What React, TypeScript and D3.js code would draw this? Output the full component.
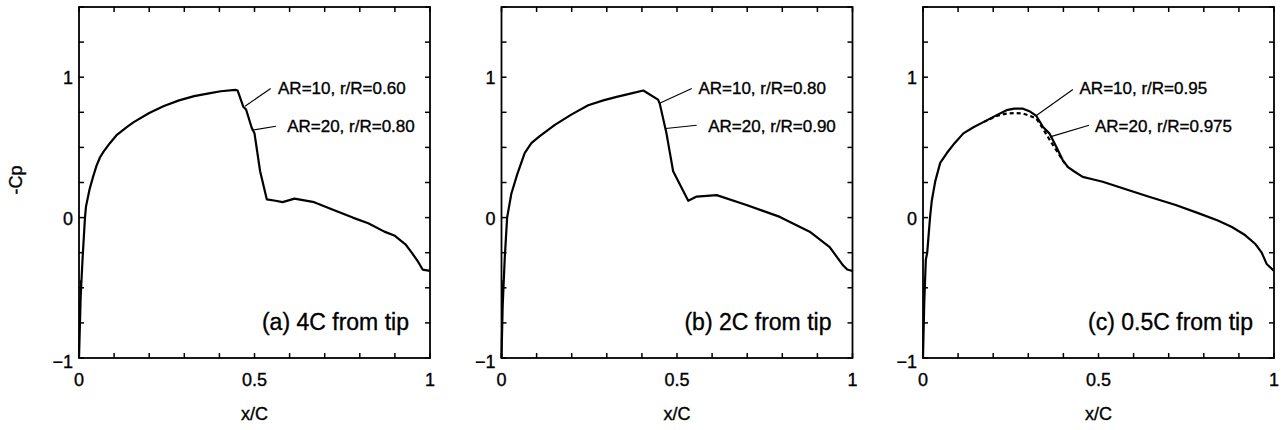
import React from "react";
import * as d3 from "d3";

// ---------- data ----------
const xTickLabels = [0, 0.5, 1];
const yTickLabels = [-1, 0, 1];
const xMinorTicks = [0, 0.1, 0.2, 0.3, 0.4, 0.5, 0.6, 0.7, 0.8, 0.9, 1];
const yMinorTicks = [-1, -0.75, -0.5, -0.25, 0, 0.25, 0.5, 0.75, 1, 1.25, 1.5];

const panelLabels = ["(a) 4C from tip", "(b) 2C from tip", "(c) 0.5C from tip"];
const ar10Labels = ["AR=10, r/R=0.60", "AR=10, r/R=0.80", "AR=10, r/R=0.95"];
const ar20Labels = ["AR=20, r/R=0.80", "AR=20, r/R=0.90", "AR=20, r/R=0.975"];

// panel (a)
const aX = [0, 0.006, 0.003, 0.01, 0.017, 0.02, 0.03, 0.04, 0.05, 0.06, 0.07, 0.088, 0.108, 0.136, 0.156, 0.2, 0.242, 0.285, 0.328, 0.37, 0.404, 0.445, 0.452, 0.468, 0.476, 0.492, 0.5, 0.516, 0.535, 0.56, 0.58, 0.614, 0.67, 0.729, 0.78, 0.824, 0.87, 0.9, 0.93, 0.948, 0.965, 0.979, 1.0];
const aY = [-1, -0.45, -0.65, -0.3, 0, 0.08, 0.2, 0.29, 0.37, 0.43, 0.47, 0.53, 0.59, 0.645, 0.68, 0.745, 0.795, 0.835, 0.865, 0.885, 0.9, 0.91, 0.905, 0.79, 0.77, 0.64, 0.6, 0.33, 0.13, 0.12, 0.11, 0.135, 0.11, 0.05, 0.0, -0.04, -0.1, -0.13, -0.19, -0.25, -0.31, -0.37, -0.38];

// panel (b)
const bX = [0, 0.005, 0.003, 0.009, 0.016, 0.028, 0.045, 0.066, 0.085, 0.109, 0.152, 0.2, 0.247, 0.29, 0.328, 0.37, 0.404, 0.446, 0.451, 0.47, 0.489, 0.532, 0.556, 0.613, 0.698, 0.793, 0.878, 0.935, 0.973, 0.985, 1.0];
const bY = [-1, -0.45, -0.65, -0.3, 0, 0.17, 0.31, 0.46, 0.53, 0.58, 0.66, 0.735, 0.8, 0.835, 0.86, 0.885, 0.905, 0.84, 0.81, 0.6, 0.33, 0.12, 0.15, 0.16, 0.09, 0.005, -0.1, -0.21, -0.34, -0.37, -0.38];

// panel (c) AR=10 (solid)
const cX = [0, 0.005, 0.003, 0.008, 0.012, 0.02, 0.025, 0.035, 0.049, 0.068, 0.09, 0.115, 0.145, 0.172, 0.21, 0.238, 0.26, 0.285, 0.305, 0.323, 0.342, 0.36, 0.38, 0.398, 0.413, 0.43, 0.455, 0.48, 0.512, 0.58, 0.644, 0.72, 0.786, 0.84, 0.88, 0.915, 0.946, 0.965, 0.979, 1.0];
const cY = [-1, -0.45, -0.65, -0.3, -0.25, 0, 0.12, 0.26, 0.39, 0.46, 0.53, 0.6, 0.645, 0.68, 0.73, 0.765, 0.776, 0.776, 0.755, 0.724, 0.645, 0.6, 0.503, 0.41, 0.36, 0.33, 0.29, 0.275, 0.255, 0.2, 0.148, 0.09, 0.03, -0.02, -0.067, -0.12, -0.186, -0.25, -0.33, -0.38];

// panel (c) AR=20 (dashed)
const cDashX = [0.172, 0.21, 0.238, 0.26, 0.285, 0.305, 0.323, 0.34, 0.356, 0.372, 0.389, 0.4, 0.413];
const cDashY = [0.68, 0.725, 0.741, 0.745, 0.741, 0.725, 0.705, 0.64, 0.574, 0.51, 0.444, 0.4, 0.36];

// leader lines: [x1, y1, x2, y2] in data units, text anchor [x, y]
const leader10 = [
  [0.473, 0.793, 0.546, 0.92],
  [0.452, 0.817, 0.542, 0.92],
  [0.324, 0.729, 0.427, 0.912],
];
const leader20 = [
  [0.492, 0.622, 0.561, 0.651],
  [0.468, 0.635, 0.556, 0.658],
  [0.362, 0.575, 0.473, 0.658],
];
const text10Pos = [[0.567, 0.879], [0.561, 0.879], [0.446, 0.879]];
const text20Pos = [[0.593, 0.612], [0.589, 0.612], [0.49, 0.612]];
const labelPos = [0.94, -0.8];

const solidX = [aX, bX, cX];
const solidY = [aY, bY, cY];

// ---------- layout ----------
const W = 1282;
const H = 430;
const panelLeft = [79, 501.5, 923];
const panelW = 351;
const top = 7;
const panelH = 351;
const FONT = "'Liberation Sans', Arial, Helvetica, sans-serif";
const TXT = { fontFamily: FONT, stroke: "#000", strokeWidth: 0.35 } as const;

function Panel({ idx }: { idx: number }) {
  const left = panelLeft[idx];
  const x = d3.scaleLinear().domain([0, 1]).range([left, left + panelW]);
  const y = d3.scaleLinear().domain([-1, 1.5]).range([top + panelH, top]);
  const line = d3
    .line<[number, number]>()
    .x((d) => x(d[0]))
    .y((d) => y(d[1]));
  const solid: [number, number][] = solidX[idx].map((v, i) => [v, solidY[idx][i]]);
  const dashed: [number, number][] | null =
    idx === 2 ? cDashX.map((v, i) => [v, cDashY[i]]) : null;
  const tl = 5;
  const l10 = leader10[idx];
  const l20 = leader20[idx];
  return (
    <g>
      {xMinorTicks.map((t) => (
        <g key={"xt" + t}>
          <line x1={x(t)} x2={x(t)} y1={y(-1)} y2={y(-1) - tl} stroke="#000" strokeWidth={1.5} />
          <line x1={x(t)} x2={x(t)} y1={y(1.5)} y2={y(1.5) + tl} stroke="#000" strokeWidth={1.5} />
        </g>
      ))}
      {yMinorTicks.map((t) => (
        <g key={"yt" + t}>
          <line x1={x(0)} x2={x(0) + tl} y1={y(t)} y2={y(t)} stroke="#000" strokeWidth={1.5} />
          <line x1={x(1)} x2={x(1) - tl} y1={y(t)} y2={y(t)} stroke="#000" strokeWidth={1.5} />
        </g>
      ))}
      <rect x={x(0)} y={y(1.5)} width={x(1) - x(0)} height={y(-1) - y(1.5)} fill="none" stroke="#000" strokeWidth={1.8} />
      {xTickLabels.map((t) => (
        <text key={"xl" + t} x={x(t)} y={y(-1) + 28} textAnchor="middle" fontSize={18} {...TXT}>
          {String(t)}
        </text>
      ))}
      {yTickLabels.map((t) => (
        <text key={"yl" + t} x={x(0) - 6} y={y(t) + (t === -1 ? 10 : 7)} textAnchor="end" fontSize={18} {...TXT}>
          {t < 0 ? "\u2212" + Math.abs(t) : String(t)}
        </text>
      ))}
      <text x={x(0.5)} y={y(-1) + 62} textAnchor="middle" fontSize={18} {...TXT}>
        x/C
      </text>
      {dashed && (
        <path d={line(dashed) || ""} fill="none" stroke="#000" strokeWidth={2.2} strokeDasharray="4,3" />
      )}
      <path d={line(solid) || ""} fill="none" stroke="#000" strokeWidth={2.2} strokeLinejoin="round" />
      <line x1={x(l10[0])} y1={y(l10[1])} x2={x(l10[2])} y2={y(l10[3])} stroke="#000" strokeWidth={1.1} />
      <line x1={x(l20[0])} y1={y(l20[1])} x2={x(l20[2])} y2={y(l20[3])} stroke="#000" strokeWidth={1.1} />
      <text x={x(text10Pos[idx][0])} y={y(text10Pos[idx][1])} fontSize={17} {...TXT}>
        {ar10Labels[idx]}
      </text>
      <text x={x(text20Pos[idx][0])} y={y(text20Pos[idx][1])} fontSize={17} {...TXT}>
        {ar20Labels[idx]}
      </text>
      <text x={x(labelPos[0])} y={y(labelPos[1])} textAnchor="end" fontSize={23} {...TXT}>
        {panelLabels[idx]}
      </text>
    </g>
  );
}

export default function App() {
  return (
    <svg width={W} height={H} style={{ position: "absolute", left: 0, top: 0, background: "#fff" }}>
      <rect width={W} height={H} fill="#fff" />
      <text transform={`translate(22, 180) rotate(-90)`} textAnchor="middle" fontSize={18} {...TXT}>
        -Cp
      </text>
      {[0, 1, 2].map((i) => (
        <Panel key={i} idx={i} />
      ))}
    </svg>
  );
}
